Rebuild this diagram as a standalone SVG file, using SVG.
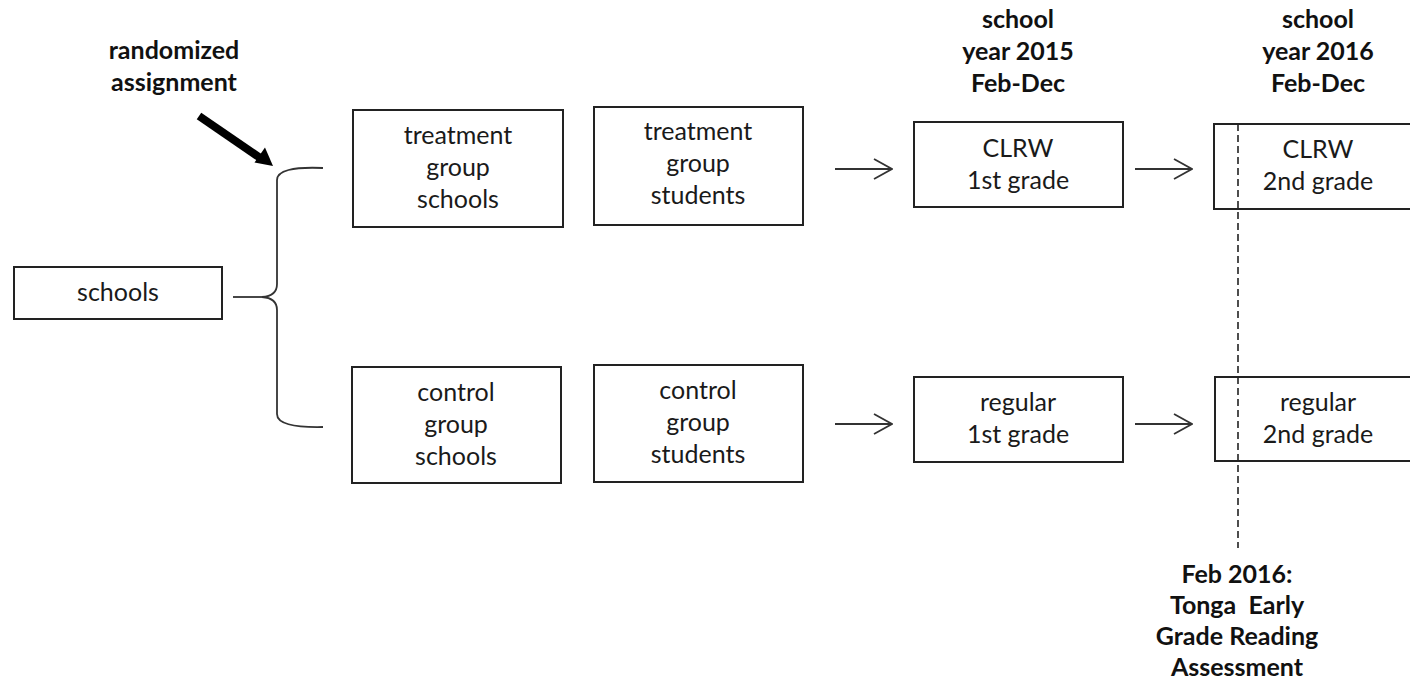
<svg xmlns="http://www.w3.org/2000/svg" width="1410" height="685" viewBox="0 0 1410 685">
<style>
.box{fill:#fff;stroke:#222;stroke-width:2}
.t{font-family:Lato,"Open Sans","Liberation Sans",sans-serif;font-size:25px;fill:#1a1a1a;text-anchor:middle}
.b{font-family:Lato,"Open Sans","Liberation Sans",sans-serif;font-size:25px;font-weight:bold;fill:#111;text-anchor:middle}
.c{fill:none;stroke:#333;stroke-width:1.8}
.dash{fill:none;stroke:#222;stroke-width:1.6;stroke-dasharray:7 4}
</style>
<defs>
<marker id="open" viewBox="0 0 20 22" refX="19" refY="11" markerWidth="20" markerHeight="22" markerUnits="userSpaceOnUse" orient="auto">
<path d="M1,1 L19,11 L1,21" fill="none" stroke="#333" stroke-width="1.8"/>
</marker>
</defs>
<rect width="1410" height="685" fill="#fff"/>

<g id="label-randomized">
<text class="b" x="174" y="59">randomized</text>
<text class="b" x="174" y="91">assignment</text>
</g>
<g id="header-2015">
<text class="b" x="1018" y="28">school</text>
<text class="b" x="1018" y="60">year 2015</text>
<text class="b" x="1018" y="92">Feb-Dec</text>
</g>
<g id="header-2016">
<text class="b" x="1318" y="28">school</text>
<text class="b" x="1318" y="60">year 2016</text>
<text class="b" x="1318" y="92">Feb-Dec</text>
</g>

<g id="schools">
<rect class="box" x="14" y="267" width="208" height="52"/>
<text class="t" x="118" y="301">schools</text>
</g>
<g id="treatment-schools">
<rect class="box" x="353" y="110" width="210" height="117"/>
<text class="t" x="458" y="144">treatment</text>
<text class="t" x="458" y="176">group</text>
<text class="t" x="458" y="208">schools</text>
</g>
<g id="treatment-students">
<rect class="box" x="594" y="107" width="209" height="118"/>
<text class="t" x="698" y="140">treatment</text>
<text class="t" x="698" y="172">group</text>
<text class="t" x="698" y="204">students</text>
</g>
<g id="control-schools">
<rect class="box" x="352" y="367" width="209" height="116"/>
<text class="t" x="456" y="401">control</text>
<text class="t" x="456" y="433">group</text>
<text class="t" x="456" y="465">schools</text>
</g>
<g id="control-students">
<rect class="box" x="594" y="365" width="209" height="117"/>
<text class="t" x="698" y="399">control</text>
<text class="t" x="698" y="431">group</text>
<text class="t" x="698" y="463">students</text>
</g>
<g id="clrw-1st">
<rect class="box" x="914" y="122" width="209" height="85"/>
<text class="t" x="1018" y="157">CLRW</text>
<text class="t" x="1018" y="189">1st grade</text>
</g>
<g id="regular-1st">
<rect class="box" x="914" y="377" width="209" height="85"/>
<text class="t" x="1018" y="411">regular</text>
<text class="t" x="1018" y="443">1st grade</text>
</g>
<g id="clrw-2nd">
<rect class="box" x="1214" y="124" width="210" height="85"/>
<text class="t" x="1318" y="158">CLRW</text>
<text class="t" x="1318" y="190">2nd grade</text>
</g>
<g id="regular-2nd">
<rect class="box" x="1215" y="377" width="210" height="84"/>
<text class="t" x="1318" y="411">regular</text>
<text class="t" x="1318" y="443">2nd grade</text>
</g>
<g id="assessment">
<text class="b" x="1237" y="583">Feb 2016:</text>
<text class="b" x="1237" y="614" xml:space="preserve">Tonga  Early</text>
<text class="b" x="1237" y="645">Grade Reading</text>
<text class="b" x="1237" y="676">Assessment</text>
</g>

<g id="connectors">
<line x1="199" y1="116" x2="261" y2="158.5" stroke="#000" stroke-width="8"/>
<polygon points="273,166 254.5,162.5 265,147.5" fill="#000"/>
<path class="c" d="M323,168 Q277,166 277,180 L277,284 Q277,296 262,297 Q277,298 277,310 L277,414 Q277,428 323,427"/>
<line class="c" x1="233" y1="297" x2="262" y2="297"/>
<line class="c" x1="835" y1="169" x2="892" y2="169" marker-end="url(#open)"/>
<line class="c" x1="835" y1="424" x2="892" y2="424" marker-end="url(#open)"/>
<line class="c" x1="1135" y1="169" x2="1192" y2="169" marker-end="url(#open)"/>
<line class="c" x1="1135" y1="424" x2="1192" y2="424" marker-end="url(#open)"/>
<line class="dash" x1="1238" y1="124" x2="1238" y2="548"/>
</g>
</svg>
